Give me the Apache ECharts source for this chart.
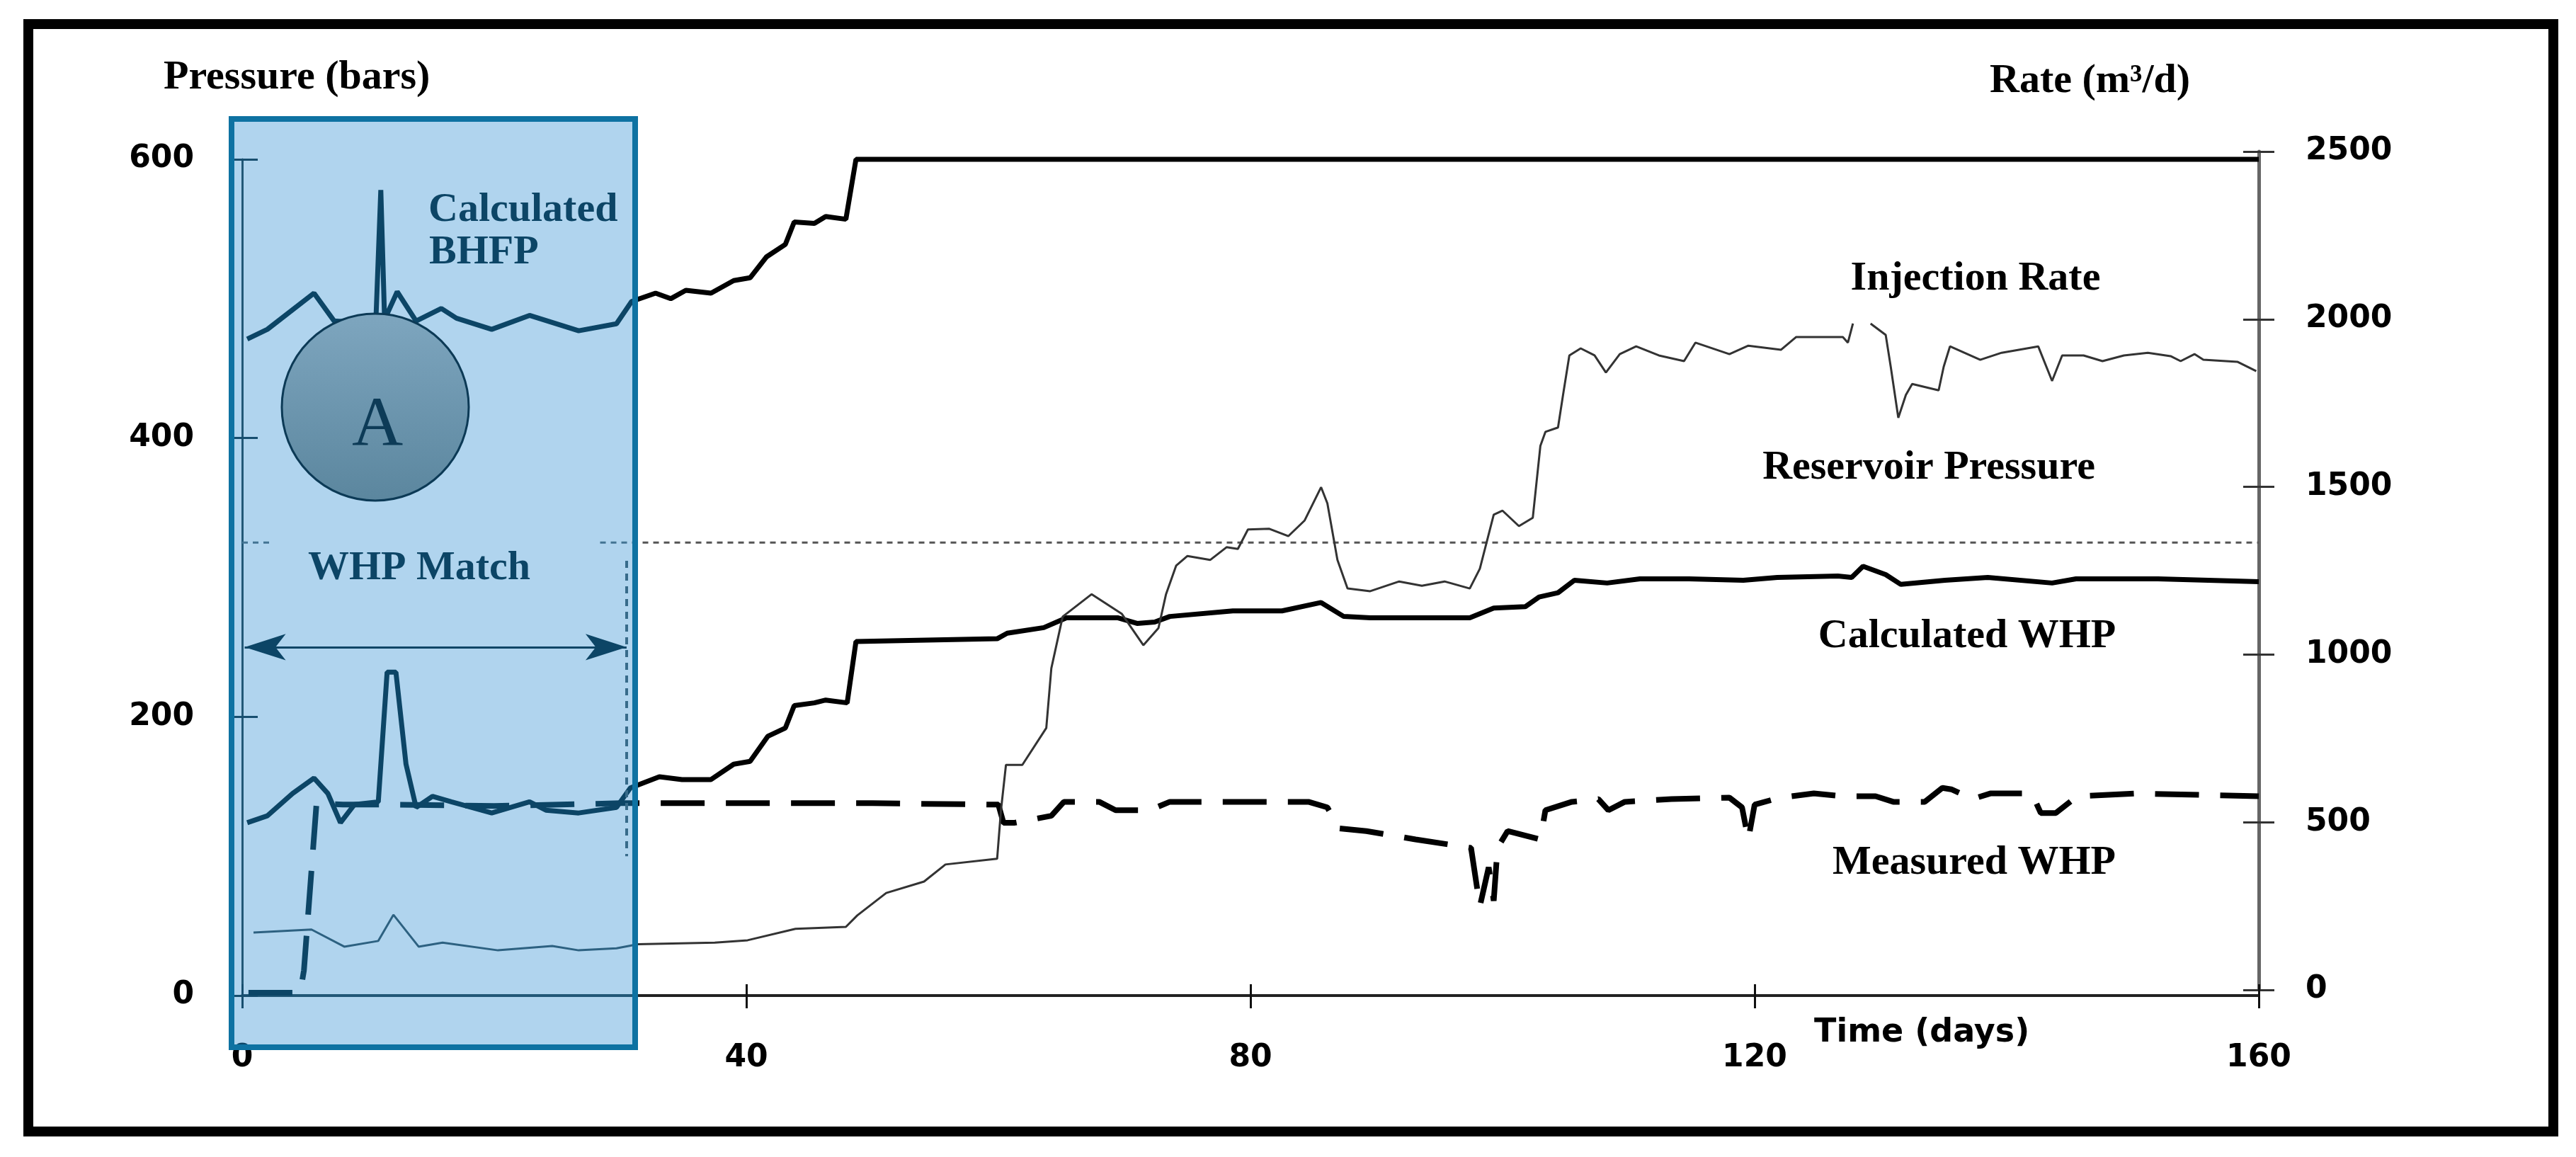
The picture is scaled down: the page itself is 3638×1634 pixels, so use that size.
<!DOCTYPE html>
<html>
<head>
  <meta charset="utf-8">
  <title>WHP match</title>
  <script src="https://cdn.jsdelivr.net/npm/echarts@6/dist/echarts.min.js"></script>
  <style>
    html, body { margin: 0; padding: 0; background: #fff; }
    #chart { width: 3638px; height: 1634px; }
  </style>
</head>
<body>
  <div id="chart"></div>
  <script>
    // time in days, pressure in bars (left axis)
    var calcBHFP = [
      [0.4, 471], [2.0, 478], [5.7, 504], [7.3, 484], [10.6, 482], [11.0, 578], [11.3, 485],
      [12.3, 505], [13.8, 484], [15.8, 493], [17.0, 486], [19.8, 478], [22.8, 488], [26.7, 477],
      [29.7, 482], [30.9, 498], [32.8, 504], [34.0, 500], [35.2, 506], [37.2, 504], [39.0, 513],
      [40.3, 515], [41.6, 530], [43.1, 539], [43.8, 555], [45.4, 554], [46.3, 559], [47.9, 557],
      [48.7, 600], [160, 600]
    ];
    var calcWHP = [
      [0.4, 124], [2.0, 129], [4.0, 145], [5.7, 156], [6.8, 145], [7.8, 124], [8.9, 137],
      [10.8, 139], [11.5, 232], [12.2, 232], [13.0, 166], [13.8, 135], [15.1, 143], [16.6, 139],
      [19.8, 131], [22.8, 139], [24.1, 133], [26.7, 131], [29.7, 135], [30.8, 149], [33.1, 157],
      [34.9, 155], [37.2, 155], [39.0, 166], [40.3, 168], [41.7, 186], [43.1, 192], [43.8, 208],
      [45.4, 210], [46.3, 212], [48.0, 210], [48.7, 254], [59.9, 256], [60.7, 260], [63.6, 264],
      [65.4, 271], [69.5, 271], [71.0, 267], [72.4, 268], [73.6, 272], [78.6, 276], [82.5, 276],
      [85.6, 282], [87.4, 272], [89.5, 271], [97.4, 271], [99.3, 278], [101.8, 279], [102.9, 286],
      [104.4, 289], [105.7, 298], [108.3, 296], [110.9, 299], [114.8, 299], [119.1, 298],
      [121.8, 300], [126.6, 301], [127.7, 300], [128.6, 308], [130.4, 302], [131.6, 295],
      [135.1, 298], [138.5, 300], [143.6, 296], [145.5, 299], [152, 299], [160, 297]
    ];
    var measuredWHP = [
      [0.5, 2], [4.6, 2], [4.9, 18], [5.9, 138], [8, 137], [12, 137], [20, 136], [30, 138],
      [40, 138], [50, 138], [60, 137], [60.4, 124], [61.3, 124], [64.2, 129], [65.2, 139],
      [68, 139], [69.3, 133], [72, 133], [73.6, 139], [84.6, 139], [86.1, 135], [87, 120],
      [89.2, 118], [93.1, 112], [97.5, 106], [98.2, 64], [98.9, 92], [99.3, 68], [99.6, 106],
      [100.4, 118], [103, 112], [103.4, 133], [105.5, 139], [107.6, 141], [108.4, 133],
      [109.7, 139], [113.4, 141], [118, 142], [119, 135], [119.5, 112], [120, 137], [122, 142],
      [124.7, 145], [127, 143], [129.6, 143], [131, 139], [133.5, 139], [134.9, 149], [135.6, 148],
      [137.3, 141], [138.7, 145], [142, 145], [142.7, 131], [143.9, 131], [145.6, 143],
      [150.3, 145], [160, 143]
    ];
    var reservoirPressure = [[0, 325], [2.3, 325], [15, null], [28.4, 325], [160, 325]];

    // injection rate in m3/d (right axis)
    var injectionRate = [
      [0.9, 171], [5.5, 180], [8.1, 129], [10.8, 146], [12.0, 224], [14.0, 129], [15.9, 141],
      [20.3, 118], [24.6, 131], [26.7, 118], [29.7, 124], [31.4, 136], [37.5, 141], [40.1, 148],
      [43.9, 182], [47.9, 188], [48.8, 222], [51.1, 289], [54.1, 323], [55.8, 374], [59.9, 391],
      [60.2, 534], [60.6, 671], [61.9, 671], [63.8, 781], [64.2, 959], [65.1, 1113], [67.4, 1180],
      [69.8, 1121], [71.5, 1028], [72.7, 1079], [73.3, 1180], [74.1, 1265], [75.0, 1294],
      [76.8, 1282], [78.1, 1320], [79.0, 1315], [79.8, 1373], [81.5, 1375], [83.0, 1353],
      [84.3, 1400], [85.6, 1499], [86.1, 1451], [86.9, 1282], [87.7, 1197], [89.5, 1189],
      [91.8, 1218], [93.6, 1205], [95.4, 1218], [97.4, 1197], [98.2, 1256], [99.3, 1417],
      [100.0, 1429], [101.3, 1383], [102.4, 1408], [103.0, 1622], [103.4, 1664], [104.4, 1677],
      [104.8, 1774], [105.3, 1892], [106.2, 1913], [107.3, 1892], [108.2, 1841], [109.3, 1896],
      [110.6, 1919], [112.4, 1892], [114.4, 1875], [115.3, 1930], [118.0, 1896], [119.5, 1921],
      [122.1, 1909], [123.3, 1947], [127.0, 1947], [127.4, 1930], [127.8, 1987], [128.5, null],
      [129.2, 1987], [130.4, 1953], [130.8, 1858], [131.4, 1706], [132.0, 1774], [132.5, 1807],
      [134.6, 1788], [135.0, 1858], [135.5, 1919], [137.9, 1879], [139.6, 1900], [142.5, 1919],
      [143.6, 1816], [144.4, 1892], [146.1, 1892], [147.6, 1875], [149.3, 1892], [151.2, 1900],
      [153.0, 1890], [153.8, 1875], [154.9, 1896], [155.6, 1879], [158.3, 1873], [159.8, 1845]
    ];

    // match window annotations (days, bars)
    var matchEndLine = [[30.5, 312], [30.5, 100]];
    var matchArrow = [[0.2, 250], [30.5, 250]];

    var tickFont = { color: '#000', fontFamily: 'DejaVu Sans', fontWeight: 'bold', fontSize: 44 };
    var serifBold = 'bold 58px "Liberation Serif", "Times New Roman", serif';

    var chart = echarts.init(document.getElementById('chart'));

    function label(text, x, y, align) {
      return {
        type: 'text', x: x, y: y, z: 5,
        style: {
          text: text, font: serifBold, fill: '#000',
          textAlign: align, align: align, textVerticalAlign: 'middle', verticalAlign: 'middle'
        }
      };
    }

    // the window box tints whatever is under it: screen lifts black, multiply adds the blue
    var box = { x: 327, y: 168, width: 570, height: 1311 };

    var option = {
      animation: false,
      backgroundColor: '#fff',
      grid: [
        { left: 342, right: 448, top: 225, bottom: 228 },
        { left: 342, right: 448, top: 214, bottom: 236 }
      ],
      xAxis: [
        {
          type: 'value', gridIndex: 0, min: 0, max: 160, interval: 40,
          axisLine: { onZero: false, lineStyle: { color: '#222', width: 4 } },
          axisTick: { length: 18, lineStyle: { color: '#111', width: 3 } },
          axisLabel: Object.assign({ margin: 67 }, tickFont),
          splitLine: { show: false }
        },
        {
          type: 'value', gridIndex: 0, min: 0, max: 160, interval: 40, position: 'bottom',
          axisLine: { show: false, onZero: false },
          axisTick: { inside: true, length: 16, lineStyle: { color: '#111', width: 3 } },
          axisLabel: { show: false }, splitLine: { show: false }
        },
        {
          type: 'value', gridIndex: 1, min: 0, max: 160, position: 'bottom',
          axisLine: { show: false, onZero: false }, axisTick: { show: false },
          axisLabel: { show: false }, splitLine: { show: false }
        }
      ],
      yAxis: [
        {
          type: 'value', gridIndex: 0, min: 0, max: 600, interval: 200, position: 'left',
          axisLine: { show: true, onZero: false, lineStyle: { color: '#222', width: 3 } },
          axisTick: { show: true, length: 18, lineStyle: { color: '#111', width: 3 } },
          axisLabel: Object.assign({ margin: 68 }, tickFont),
          splitLine: { show: false }
        },
        {
          type: 'value', gridIndex: 0, min: 0, max: 600, interval: 200, position: 'left',
          axisLine: { show: false, onZero: false },
          axisTick: { show: true, inside: true, length: 22, lineStyle: { color: '#111', width: 3 } },
          axisLabel: { show: false }, splitLine: { show: false }
        },
        {
          type: 'value', gridIndex: 1, min: 0, max: 2500, interval: 500, position: 'right',
          axisLine: { show: true, onZero: false, lineStyle: { color: '#666', width: 5 } },
          axisTick: { show: true, length: 22, lineStyle: { color: '#333', width: 3 } },
          axisLabel: Object.assign({ margin: 66, formatter: function (v) { return String(v); } }, tickFont),
          splitLine: { show: false }
        },
        {
          type: 'value', gridIndex: 1, min: 0, max: 2500, interval: 500, position: 'right',
          axisLine: { show: false, onZero: false },
          axisTick: { show: true, inside: true, length: 22, lineStyle: { color: '#333', width: 3 } },
          axisLabel: { show: false }, splitLine: { show: false }
        }
      ],
      series: [
        {
          name: 'Reservoir Pressure', type: 'line', xAxisIndex: 0, yAxisIndex: 0,
          data: reservoirPressure, symbol: 'none', clip: false, connectNulls: false,
          lineStyle: { color: '#555', width: 3, type: [8, 7] },
          markLine: {
            silent: true, symbol: 'none', label: { show: false }, animation: false,
            data: [
              [
                { coord: matchEndLine[0], lineStyle: { color: '#444', width: 4, type: [10, 8] } },
                { coord: matchEndLine[1] }
              ],
              [
                { coord: matchArrow[0], symbol: 'arrow', symbolSize: [28, 58],
                  lineStyle: { color: '#000', width: 3, type: 'solid' } },
                { coord: matchArrow[1], symbol: 'arrow', symbolSize: [28, 58] }
              ]
            ]
          }
        },
        {
          name: 'Calculated BHFP', type: 'line', xAxisIndex: 0, yAxisIndex: 0,
          data: calcBHFP, symbol: 'none', clip: false,
          lineStyle: { color: '#000', width: 7 }
        },
        {
          name: 'Calculated WHP', type: 'line', xAxisIndex: 0, yAxisIndex: 0,
          data: calcWHP, symbol: 'none', clip: false,
          lineStyle: { color: '#000', width: 7 }
        },
        {
          name: 'Measured WHP', type: 'line', xAxisIndex: 0, yAxisIndex: 0,
          data: measuredWHP, symbol: 'none', clip: false,
          lineStyle: { color: '#000', width: 8, type: [62, 30] }
        },
        {
          name: 'Injection Rate', type: 'line', xAxisIndex: 2, yAxisIndex: 2,
          data: injectionRate, symbol: 'none', clip: false, connectNulls: false,
          lineStyle: { color: '#333', width: 3 }
        }
      ],
      graphic: [
        // outer frame
        { type: 'rect', z: 100, shape: { x: 40, y: 34, width: 3566, height: 1564 },
          style: { fill: 'none', stroke: '#000', lineWidth: 14 } },
        label('Pressure (bars)', 231, 110, 'left'),
        label('Rate (m\u00b3/d)', 2810, 115, 'left'),
        label('Injection Rate', 2790, 394, 'center'),
        label('Reservoir Pressure', 2724, 661, 'center'),
        label('Calculated WHP', 2778, 899, 'center'),
        label('Measured WHP', 2788, 1219, 'center'),
        { type: 'text', x: 2562, y: 1459, z: 5,
          style: { text: 'Time (days)', font: 'bold 46px "DejaVu Sans"', fill: '#000',
                   textAlign: 'left', align: 'left', textVerticalAlign: 'middle', verticalAlign: 'middle' } },
        // labels inside the match window, tinted by the box
        label('Calculated', 605, 297, 'left'),
        label('BHFP', 606, 357, 'left'),
        label('WHP Match', 592, 803, 'center'),
        // WHP match window
        { type: 'rect', z: 20, shape: box, style: { fill: 'rgb(17,83,109)', blend: 'screen' } },
        { type: 'rect', z: 21, shape: box, style: { fill: 'rgb(176,212,238)', blend: 'multiply' } },
        { type: 'rect', z: 22, shape: box, style: { fill: 'none', stroke: '#0e72a2', lineWidth: 8 } },
        { type: 'circle', z: 23, shape: { cx: 530, cy: 575, r: 132 },
          style: {
            fill: { type: 'linear', x: 0, y: 0, x2: 0, y2: 1,
                    colorStops: [{ offset: 0, color: '#7ea6bf' }, { offset: 1, color: '#5b869e' }] },
            stroke: '#0c3a56', lineWidth: 3
          } },
        { type: 'text', x: 533, y: 603, z: 24,
          style: { text: 'A', font: '100px "Liberation Serif", "Times New Roman", serif', fill: '#0d3b57',
                   textAlign: 'center', align: 'center', textVerticalAlign: 'middle', verticalAlign: 'middle' } }
      ]
    };

    chart.setOption(option);
    window.addEventListener('resize', function () {
      chart.resize();
    });
  </script>
</body>
</html>
